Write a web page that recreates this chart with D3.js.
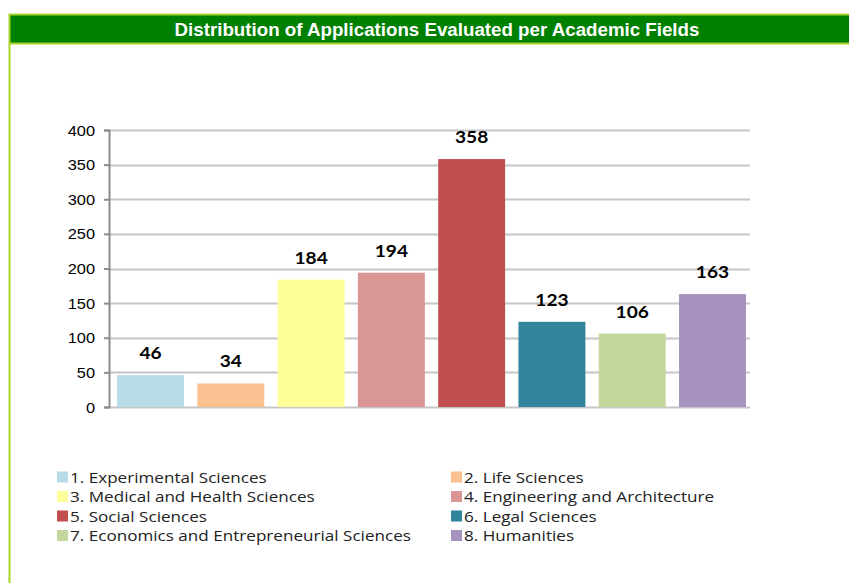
<!DOCTYPE html>
<html>
<head>
<meta charset="utf-8">
<script src="https://cdn.jsdelivr.net/npm/d3@7"></script>
<style>
  html, body { margin: 0; padding: 0; background: #fff; }
  svg { display: block; }
</style>
</head>
<body>
<svg id="chart" width="849" height="583"></svg>
<script>
const title = "Distribution of Applications Evaluated per Academic Fields";
const categories = [
  "1. Experimental Sciences",
  "2. Life Sciences",
  "3. Medical and Health Sciences",
  "4. Engineering and Architecture",
  "5. Social Sciences",
  "6. Legal Sciences",
  "7. Economics and Entrepreneurial Sciences",
  "8. Humanities"
];
const values = [46, 34, 184, 194, 358, 123, 106, 163];
const colors = ["#b7dde8", "#fac090", "#ffff99", "#d99694", "#c0504d", "#31849b", "#c3d69b", "#a694be"];
const yTicks = [0, 50, 100, 150, 200, 250, 300, 350, 400];

const svg = d3.select("#chart");
const W = 849, H = 583;

// frame
svg.append("rect").attr("x", 0).attr("y", 0).attr("width", W).attr("height", H).attr("fill", "#fff");
svg.append("line").attr("x1", 9.5).attr("x2", 9.5).attr("y1", 44).attr("y2", H)
  .attr("stroke", "#a8d42a").attr("stroke-width", 2);
svg.append("rect").attr("x", 9.5).attr("y", 14.5).attr("width", W).attr("height", 29)
  .attr("fill", "#008000").attr("stroke", "#a8d42a").attr("stroke-width", 2);
svg.append("text").attr("transform", "translate(437,36) scale(1.04,1)").attr("text-anchor", "middle")
  .attr("font-family", "Liberation Sans, Arial, sans-serif").attr("font-weight", "bold")
  .attr("font-size", 18).attr("fill", "#fff").text(title);

// plot
const m = { left: 109, right: 750, top: 130, bottom: 407 };
const x = d3.scaleBand().domain(categories).range([m.left, 754]).paddingInner(0.166).paddingOuter(0.1);
const y = d3.scaleLinear().domain([0, 400]).range([m.bottom, m.top]);

const grid = svg.append("g");
grid.selectAll("line").data(yTicks).join("line")
  .attr("x1", m.left).attr("x2", m.right)
  .attr("y1", d => Math.round(y(d)) + 0.5).attr("y2", d => Math.round(y(d)) + 0.5)
  .attr("stroke", "#c6c6c6").attr("stroke-width", 2);

const yAxis = svg.append("g").attr("transform", `translate(${m.left},0)`)
  .call(d3.axisLeft(y).tickValues(yTicks).tickSize(5).tickPadding(9));
yAxis.select(".domain").attr("stroke", "#8c8c8c").attr("stroke-width", 2);
yAxis.selectAll(".tick line").attr("stroke", "#8c8c8c").attr("stroke-width", 2);
yAxis.selectAll(".tick text")
  .attr("x", null).attr("dy", null)
  .attr("transform", "translate(-14,5) scale(1.17,1)")
  .attr("font-family", "Liberation Sans, Arial, sans-serif")
  .attr("font-size", 14).attr("fill", "#000");

svg.append("g").selectAll("rect").data(values).join("rect")
  .attr("x", (d, i) => x(categories[i]))
  .attr("width", x.bandwidth())
  .attr("y", d => y(d))
  .attr("height", d => y(0) - y(d))
  .attr("fill", (d, i) => colors[i]);

svg.append("g").selectAll("text").data(values).join("text")
  .attr("transform", (d, i) => `translate(${x(categories[i]) + x.bandwidth() / 2},${y(d) - 16}) scale(1.16,1)`)
  .attr("text-anchor", "middle")
  .attr("font-family", "Lato, 'Noto Sans', sans-serif").attr("font-weight", "bold")
  .attr("font-size", 16.5).attr("fill", "#000")
  .text(d => d);

// legend
const legend = svg.append("g");
const colX = [57, 451];
const rowY = [477, 496.5, 516, 535.5];
categories.forEach((c, i) => {
  const cx = colX[i % 2], cy = rowY[Math.floor(i / 2)];
  const g = legend.append("g");
  g.append("rect").attr("x", cx).attr("y", cy - 5.5).attr("width", 11).attr("height", 11).attr("fill", colors[i]);
  g.append("text").attr("transform", `translate(${cx + 13},${cy + 5.5}) scale(1.14,1)`)
    .attr("font-family", "'Open Sans', 'Noto Sans', sans-serif")
    .attr("font-size", 15).attr("fill", "#222").text(c);
});
</script>
</body>
</html>
